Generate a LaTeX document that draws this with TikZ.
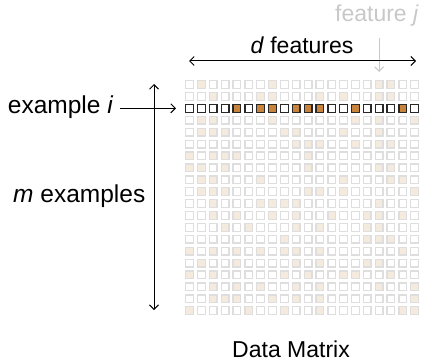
\documentclass[tikz,border=0pt]{standalone}
\usepackage{fontspec}
\setmainfont{Liberation Sans}
\usetikzlibrary{arrows.meta}

\definecolor{cellline}{RGB}{222,222,222}
\definecolor{cellfill}{RGB}{244,234,222}
\definecolor{hotfill}{RGB}{200,131,60}
\definecolor{hotline}{RGB}{40,40,40}
\definecolor{faint}{RGB}{200,200,200}

\begin{document}
\begin{tikzpicture}[x=1pt,y=-1pt,
  cell/.style={draw=cellline, line width=1.3pt, fill=white,
    minimum size=7.7pt, inner sep=0pt, outer sep=0pt},
  label/.style={font=\fontsize{23}{27}\selectfont, inner sep=0pt},
  sidelabel/.style={font=\fontsize{24.5}{29}\selectfont, inner sep=0pt, anchor=base east},
  arrowline/.style={line width=1pt, -{Straight Barb[length=4.5pt,width=9pt]}},
  twoway/.style={line width=1pt, {Straight Barb[length=4.5pt,width=9pt]}-{Straight Barb[length=4.5pt,width=9pt]}}]

\useasboundingbox (0,0) rectangle (423,361);

% the data matrix: 20 examples (rows) by 20 features (columns);
% each row lists the columns holding a non-zero value
\foreach \row/\cols in {
  1/{2,8,17,18},
  2/{3,7,8,12,14,17,18},
  3/{5,7,8,10,11,12,15,19},
  4/{2,3,8,15,17,20},
  5/{2,3,4,9,10,14,17},
  6/{10,11,12,15,17,18},
  7/{1,3,4,5,11},
  8/{1,2,4,11,17,18},
  9/{2,3,7,14,18,19},
  10/{2,3,4,11,12,14,20},
  11/{3,7,8,9,10,17},
  12/{3,5,8,10,13,16,17,19},
  13/{4,6,10,12,16,17},
  14/{9,16,17,18},
  15/{1,3,5,7,9,10,12,19},
  16/{2,5,10,12,16,17},
  17/{1,3,9,11,14,15,18},
  18/{3,5,7,10,12,17,20},
  19/{3,4,5,8,10,12,20},
  20/{1,6,9,12,19,20}}{
  \foreach \col in {1,...,20}{
    \gdef\cellon{0}%
    \foreach \k in \cols {\ifnum\k=\col\relax\gdef\cellon{1}\fi}%
    \ifnum\row=3 \def\cline{hotline}\def\con{hotfill}\else\def\cline{cellline}\def\con{cellfill}\fi
    \ifnum\cellon=1 \let\cfill\con\else\def\cfill{white}\fi
    \node[cell, draw=\cline, fill=\cfill] (c-\row-\col)
      at ({189.5+(\col-1)*11.85},{84.5+(\row-1)*11.9}) {};
  }
}

% labels
\node[label, text=faint] (featj) at (377,16) {feature \textit{j}};
\node[label] (dfeat) at (302,45) {\textit{d} features};
\node[sidelabel] (exi) at (113.5,113.5) {example \textit{i}};
\node[sidelabel] (mex) at (145.5,202) {\textit{m} examples};
\node[label, anchor=base east] (title) at (350,357) {Data Matrix};

% arrow ends
\coordinate (fjtail) at (379.1,38);
\coordinate (fjtip) at (379.1,72);
\coordinate (dleft) at (189,61);
\coordinate (dright) at (416,61);
\coordinate (extail) at (120,108.3);
\coordinate (extip) at (176,108.3);
\coordinate (mtop) at (154,84);
\coordinate (mbottom) at (154,310);

% connectors
\draw[arrowline, draw=faint] (fjtail) -- (fjtip);
\draw[twoway] (dleft) -- (dright);
\draw[twoway] (mtop) -- (mbottom);
\draw[arrowline] (extail) -- (extip);
\end{tikzpicture}
\end{document}
